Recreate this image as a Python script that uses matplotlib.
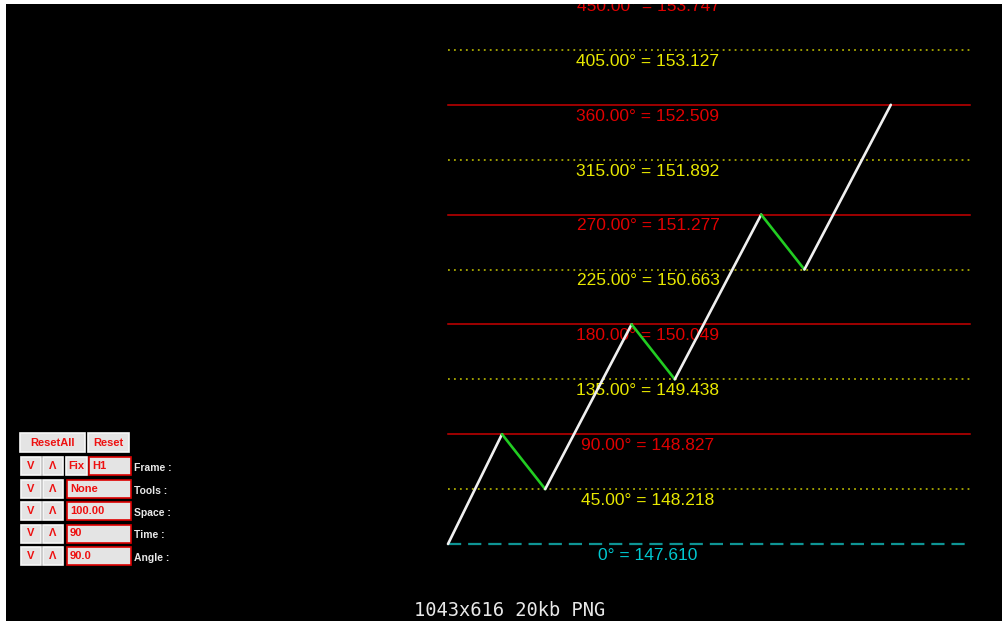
import matplotlib.pyplot as plt
from matplotlib.patches import Rectangle

plt.rcParams['lines.scale_dashes'] = False

# levels (degrees -> price)
degrees = [0, 45, 90, 135, 180, 225, 270, 315, 360, 405, 450]
prices = ['147.610', '148.218', '148.827', '149.438', '150.049', '150.663',
          '151.277', '151.892', '152.509', '153.127', '153.747']

# zigzag swing points (bar index, degrees)
swing_bars = [0, 5, 9, 17, 21, 29, 33, 41]
swing_deg = [0, 90, 45, 180, 135, 270, 225, 360]

# control panel
panel_rows = [('Frame :', 'H1'), ('Tools :', 'None'), ('Space :', '100.00'),
              ('Time :', '90'), ('Angle :', '90.0')]

W, H = 1003, 621
fig = plt.figure(figsize=(W / 100, H / 100), dpi=100, facecolor='white')
ax = fig.add_axes([6 / W, 0, 1 - 6 / W, 1 - 4 / H])
ax.set_facecolor('black')
ax.set_xticks([])
ax.set_yticks([])
for s in ax.spines.values():
    s.set_visible(False)

px_bar = 10.8
px_deg = 54.9 / 45
x0, y0 = 448 - 6, 621 - 544  # origin in axes pixels
ax_w, ax_h = W - 6, H - 4
ax.set_xlim(-x0 / px_bar, (ax_w - x0) / px_bar)
ax.set_ylim(-y0 / px_deg, (ax_h - y0) / px_deg)

line_end = (970 - 448) / px_bar
label_x = (648 - 448) / px_bar

for d, p in zip(degrees, prices):
    if d == 0:
        ax.plot([0, line_end], [d, d], color='#0e9494', lw=1.6, dashes=(9.5, 5))
        col = '#00c8d0'
        txt = f'0° = {p}'
    elif d % 90 == 0:
        ax.plot([0, line_end], [d, d], color='#c80000', lw=1.1)
        col = '#e00000'
        txt = f'{d:.2f}° = {p}'
    else:
        ax.plot([0, line_end], [d, d], color='#c8c800', lw=1.1, dashes=(1.3, 3))
        col = '#e8e800'
        txt = f'{d:.2f}° = {p}'
    ax.text(label_x, d - 9.3, txt, color=col, fontsize=12.5,
            family='Liberation Sans', ha='center', va='center', zorder=2,
            clip_on=True)

for i in range(len(swing_bars) - 1):
    up = swing_deg[i + 1] > swing_deg[i]
    ax.plot(swing_bars[i:i + 2], swing_deg[i:i + 2],
            color='#f0f0f0' if up else '#22cc22', lw=1.9, zorder=3,
            solid_capstyle='round')

# control panel widgets (figure pixel coords, y from top)
def box(x, y, w, h, text, edge, align='center'):
    fig.patches.append(Rectangle((x / W, 1 - (y + h) / H), w / W, h / H,
                                 transform=fig.transFigure, facecolor='#e4e4e4',
                                 edgecolor=edge, lw=1.2))
    tx = x + w / 2 if align == 'center' else x + 3
    fig.text(tx / W, 1 - (y + h / 2) / H, text, color='#ee1010', fontsize=8,
             fontweight='bold', family='Liberation Sans', ha=align, va='center')

box(20, 433, 65, 19, 'ResetAll', '#f8f8f8')
box(88, 433, 41, 19, 'Reset', '#f8f8f8')
for i, (lab, val) in enumerate(panel_rows):
    y = 457 + i * 22.5
    box(21, y, 20, 18, 'V', '#f8f8f8')
    box(43, y, 20, 18, 'Λ', '#f8f8f8')
    if i == 0:
        box(66, y, 21, 18, 'Fix', '#f8f8f8')
        box(89, y, 42, 18, val, '#dd0000', align='left')
    else:
        box(67, y, 64, 18, val, '#dd0000', align='left')
    fig.text(134 / W, 1 - (y + 11) / H, lab, color='#e8e8e8', fontsize=7.5,
             fontweight='bold', family='Liberation Sans', ha='left', va='center')

fig.text(510 / W, 1 - 610 / H, '1043x616 20kb PNG', color='#e8e8e8',
         fontsize=13.5, family='DejaVu Sans Mono', ha='center', va='center')

fig.savefig('out.png', dpi=100, facecolor='white')
